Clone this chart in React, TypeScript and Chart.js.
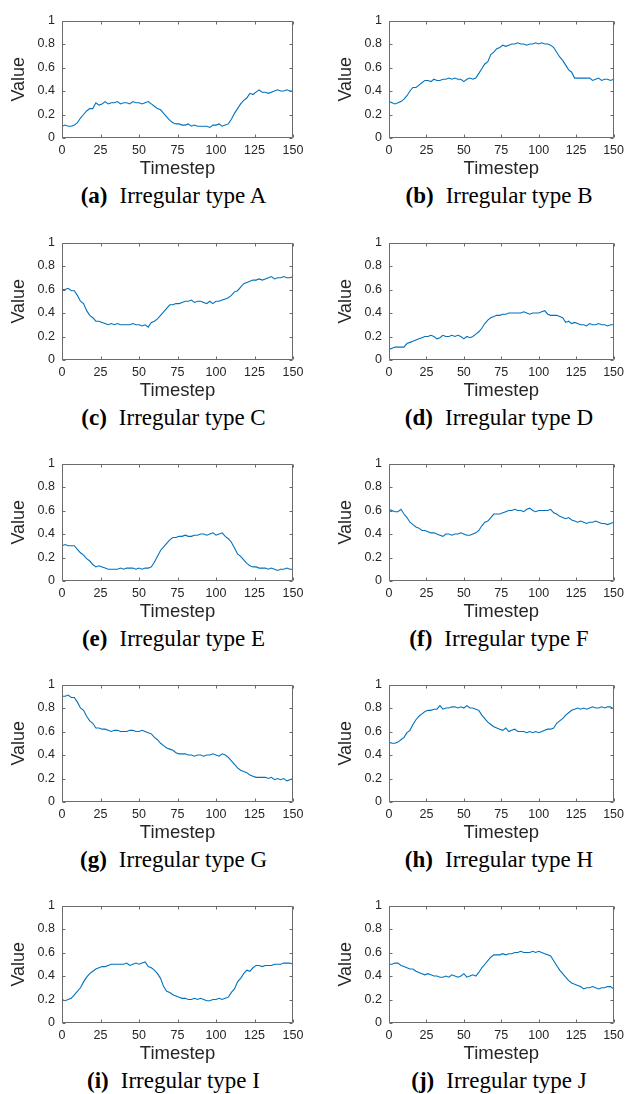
import React, { useEffect, useRef } from 'react';
import { Chart, registerables } from 'chart.js';

Chart.register(...registerables);

const timesteps = [
  0, 2, 4, 6, 8, 10, 12, 14, 16, 18,
  20, 22, 24, 26, 28, 30, 32, 34, 36, 38,
  40, 42, 44, 46, 48, 50, 52, 54, 56, 58,
  60, 62, 64, 66, 68, 70, 72, 74, 76, 78,
  80, 82, 84, 86, 88, 90, 92, 94, 96, 98,
  100, 102, 104, 106, 108, 110, 112, 114, 116, 118,
  120, 122, 124, 126, 128, 130, 132, 134, 136, 138,
  140, 142, 144, 146, 148, 150,
];

const xTicks = [0, 25, 50, 75, 100, 125, 150];
const yTicks = [0, 0.2, 0.4, 0.6, 0.8, 1];

const seriesA = [
  0.10, 0.11, 0.10, 0.10, 0.11, 0.13, 0.17, 0.20, 0.23, 0.25,
  0.25, 0.30, 0.28, 0.29, 0.31, 0.29, 0.30, 0.30, 0.31, 0.29,
  0.30, 0.30, 0.29, 0.31, 0.30, 0.30, 0.29, 0.30, 0.31, 0.29,
  0.27, 0.25, 0.24, 0.21, 0.18, 0.15, 0.13, 0.12, 0.12, 0.11,
  0.11, 0.12, 0.10, 0.11, 0.10, 0.10, 0.10, 0.10, 0.09, 0.11,
  0.11, 0.12, 0.10, 0.11, 0.12, 0.16, 0.21, 0.25, 0.29, 0.32,
  0.34, 0.38, 0.37, 0.39, 0.41, 0.39, 0.39, 0.38, 0.39, 0.40,
  0.41, 0.40, 0.40, 0.41, 0.40, 0.40,
];
const seriesB = [
  0.31, 0.30, 0.29, 0.30, 0.31, 0.33, 0.36, 0.40, 0.43, 0.43,
  0.45, 0.47, 0.49, 0.49, 0.48, 0.50, 0.49, 0.49, 0.50, 0.50,
  0.51, 0.50, 0.51, 0.50, 0.50, 0.48, 0.50, 0.51, 0.50, 0.51,
  0.55, 0.59, 0.63, 0.65, 0.71, 0.73, 0.76, 0.77, 0.79, 0.78,
  0.79, 0.80, 0.80, 0.81, 0.80, 0.80, 0.79, 0.80, 0.80, 0.81,
  0.80, 0.81, 0.80, 0.80, 0.79, 0.77, 0.73, 0.69, 0.66, 0.62,
  0.58, 0.56, 0.51, 0.51, 0.51, 0.51, 0.51, 0.51, 0.49, 0.50,
  0.51, 0.49, 0.50, 0.50, 0.49, 0.50,
];
const seriesC = [
  0.60, 0.60, 0.61, 0.59, 0.59, 0.55, 0.50, 0.48, 0.42, 0.38,
  0.36, 0.33, 0.33, 0.32, 0.31, 0.30, 0.31, 0.30, 0.31, 0.30,
  0.30, 0.30, 0.30, 0.31, 0.30, 0.30, 0.29, 0.30, 0.28, 0.32,
  0.33, 0.35, 0.38, 0.41, 0.44, 0.47, 0.47, 0.48, 0.48, 0.49,
  0.50, 0.50, 0.51, 0.49, 0.50, 0.50, 0.49, 0.48, 0.50, 0.48,
  0.50, 0.50, 0.51, 0.52, 0.53, 0.55, 0.58, 0.59, 0.62, 0.65,
  0.66, 0.67, 0.68, 0.68, 0.69, 0.68, 0.69, 0.70, 0.71, 0.69,
  0.70, 0.70, 0.71, 0.70, 0.70, 0.71,
];
const seriesD = [
  0.09, 0.10, 0.11, 0.11, 0.11, 0.11, 0.14, 0.15, 0.16, 0.17,
  0.18, 0.19, 0.20, 0.20, 0.21, 0.20, 0.18, 0.19, 0.21, 0.20,
  0.20, 0.21, 0.20, 0.21, 0.20, 0.18, 0.20, 0.19, 0.20, 0.22,
  0.24, 0.27, 0.31, 0.34, 0.36, 0.37, 0.38, 0.38, 0.39, 0.39,
  0.40, 0.40, 0.40, 0.40, 0.40, 0.41, 0.40, 0.39, 0.40, 0.40,
  0.40, 0.41, 0.42, 0.39, 0.38, 0.38, 0.38, 0.37, 0.36, 0.32,
  0.33, 0.31, 0.32, 0.31, 0.30, 0.30, 0.29, 0.31, 0.30, 0.30,
  0.31, 0.30, 0.30, 0.29, 0.30, 0.30,
];
const seriesE = [
  0.30, 0.31, 0.30, 0.30, 0.30, 0.27, 0.24, 0.22, 0.19, 0.17,
  0.14, 0.12, 0.13, 0.12, 0.11, 0.10, 0.10, 0.10, 0.10, 0.11,
  0.10, 0.11, 0.11, 0.11, 0.10, 0.11, 0.10, 0.11, 0.11, 0.12,
  0.16, 0.21, 0.26, 0.29, 0.32, 0.35, 0.37, 0.37, 0.38, 0.38,
  0.39, 0.38, 0.38, 0.39, 0.39, 0.40, 0.40, 0.39, 0.40, 0.41,
  0.39, 0.40, 0.41, 0.38, 0.36, 0.33, 0.28, 0.23, 0.21, 0.18,
  0.15, 0.13, 0.12, 0.12, 0.11, 0.11, 0.11, 0.10, 0.11, 0.10,
  0.09, 0.10, 0.10, 0.11, 0.10, 0.10,
];
const seriesF = [
  0.61, 0.60, 0.59, 0.59, 0.61, 0.57, 0.54, 0.50, 0.48, 0.46,
  0.45, 0.43, 0.43, 0.42, 0.41, 0.41, 0.40, 0.39, 0.38, 0.40,
  0.40, 0.39, 0.40, 0.40, 0.41, 0.40, 0.39, 0.39, 0.40, 0.41,
  0.43, 0.47, 0.50, 0.51, 0.54, 0.57, 0.57, 0.57, 0.58, 0.59,
  0.60, 0.60, 0.61, 0.60, 0.60, 0.59, 0.61, 0.62, 0.60, 0.59,
  0.60, 0.60, 0.60, 0.60, 0.61, 0.58, 0.57, 0.55, 0.54, 0.53,
  0.54, 0.52, 0.51, 0.50, 0.51, 0.50, 0.49, 0.50, 0.50, 0.51,
  0.50, 0.49, 0.49, 0.48, 0.49, 0.50,
];
const seriesG = [
  0.90, 0.90, 0.91, 0.89, 0.89, 0.85, 0.80, 0.78, 0.73, 0.69,
  0.67, 0.63, 0.63, 0.62, 0.62, 0.61, 0.60, 0.61, 0.61, 0.60,
  0.60, 0.60, 0.61, 0.61, 0.60, 0.60, 0.61, 0.60, 0.59, 0.58,
  0.55, 0.53, 0.50, 0.48, 0.46, 0.45, 0.44, 0.42, 0.41, 0.41,
  0.41, 0.40, 0.40, 0.39, 0.40, 0.40, 0.39, 0.40, 0.40, 0.41,
  0.40, 0.39, 0.41, 0.40, 0.38, 0.35, 0.32, 0.29, 0.27, 0.26,
  0.25, 0.23, 0.22, 0.21, 0.21, 0.21, 0.21, 0.20, 0.21, 0.19,
  0.20, 0.19, 0.20, 0.18, 0.19, 0.20,
];
const seriesH = [
  0.51, 0.50, 0.50, 0.51, 0.53, 0.55, 0.59, 0.61, 0.66, 0.70,
  0.73, 0.75, 0.77, 0.78, 0.78, 0.79, 0.79, 0.82, 0.79, 0.80,
  0.80, 0.81, 0.81, 0.80, 0.81, 0.80, 0.82, 0.80, 0.80, 0.79,
  0.78, 0.74, 0.71, 0.68, 0.66, 0.64, 0.63, 0.62, 0.61, 0.63,
  0.60, 0.61, 0.62, 0.60, 0.60, 0.60, 0.59, 0.60, 0.59, 0.60,
  0.59, 0.60, 0.61, 0.62, 0.62, 0.63, 0.67, 0.69, 0.71, 0.74,
  0.76, 0.78, 0.79, 0.80, 0.79, 0.80, 0.79, 0.80, 0.81, 0.80,
  0.80, 0.81, 0.80, 0.81, 0.81, 0.79,
];
const seriesI = [
  0.20, 0.19, 0.20, 0.21, 0.24, 0.27, 0.30, 0.35, 0.39, 0.42,
  0.44, 0.46, 0.47, 0.48, 0.48, 0.49, 0.50, 0.50, 0.50, 0.50,
  0.50, 0.51, 0.49, 0.50, 0.51, 0.50, 0.51, 0.52, 0.48, 0.47,
  0.45, 0.42, 0.38, 0.31, 0.27, 0.26, 0.24, 0.23, 0.22, 0.21,
  0.21, 0.20, 0.20, 0.21, 0.20, 0.21, 0.20, 0.19, 0.19, 0.20,
  0.20, 0.21, 0.20, 0.21, 0.22, 0.26, 0.29, 0.35, 0.38, 0.42,
  0.45, 0.44, 0.47, 0.49, 0.49, 0.48, 0.49, 0.49, 0.49, 0.50,
  0.50, 0.50, 0.51, 0.51, 0.51, 0.50,
];
const seriesJ = [
  0.50, 0.50, 0.51, 0.51, 0.49, 0.48, 0.47, 0.46, 0.46, 0.44,
  0.43, 0.42, 0.41, 0.42, 0.41, 0.40, 0.40, 0.39, 0.39, 0.40,
  0.39, 0.41, 0.40, 0.39, 0.40, 0.42, 0.39, 0.40, 0.41, 0.40,
  0.43, 0.47, 0.50, 0.53, 0.56, 0.58, 0.58, 0.58, 0.59, 0.58,
  0.59, 0.59, 0.60, 0.60, 0.61, 0.60, 0.60, 0.60, 0.61, 0.60,
  0.61, 0.60, 0.59, 0.58, 0.57, 0.53, 0.49, 0.45, 0.42, 0.39,
  0.36, 0.34, 0.33, 0.32, 0.31, 0.29, 0.30, 0.30, 0.31, 0.30,
  0.29, 0.30, 0.30, 0.31, 0.31, 0.29,
];

const captionLetters = ['a', 'b', 'c', 'd', 'e', 'f', 'g', 'h', 'i', 'j'];
const captionNames = [
  'Irregular type A', 'Irregular type B', 'Irregular type C', 'Irregular type D',
  'Irregular type E', 'Irregular type F', 'Irregular type G', 'Irregular type H',
  'Irregular type I', 'Irregular type J',
];
const allSeries = [seriesA, seriesB, seriesC, seriesD, seriesE, seriesF, seriesG, seriesH, seriesI, seriesJ];

const LINE_COLOR = '#0072BD';
const TEXT_COLOR = '#262626';
const AXIS_COLOR = '#6b6b6b';
const SANS = '"Liberation Sans", Arial, Helvetica, sans-serif';
const SERIF = '"Liberation Serif", "Times New Roman", Times, serif';

// layout
const PLOT_TOPS = [16, 238, 459, 680, 901];
const PLOT_H = 122;
const COL_LEFT = [0, 327];
const COL_WIDTH = [310, 302];
const COL_RIGHT_PAD = [17, 11];
const Y_AXIS_W = 62;
const X_AXIS_H = 42;
const TOP_PAD = 10;
const CAPTION_CENTER = [173.5, 499];
const CAPTION_SIZE = 23;

const boxPlugin = {
  id: 'matlabBox',
  afterDraw(chart: any) {
    const { ctx, chartArea, scales } = chart;
    const l = Math.round(chartArea.left) + 0.5;
    const r = Math.round(chartArea.right) - 0.5;
    const t = Math.round(chartArea.top) + 0.5;
    const b = Math.round(chartArea.bottom) - 0.5;
    ctx.save();
    ctx.strokeStyle = AXIS_COLOR;
    ctx.lineWidth = 1;
    ctx.beginPath();
    ctx.rect(l, t, r - l, b - t);
    const tl = 3;
    for (const v of yTicks) {
      const py = Math.round(scales.y.getPixelForValue(v)) + 0.5;
      ctx.moveTo(l, py); ctx.lineTo(l + tl, py);
      ctx.moveTo(r, py); ctx.lineTo(r - tl, py);
    }
    for (const v of xTicks) {
      const px = Math.round(scales.x.getPixelForValue(v)) + 0.5;
      ctx.moveTo(px, b); ctx.lineTo(px, b - tl);
      ctx.moveTo(px, t); ctx.lineTo(px, t + tl);
    }
    ctx.stroke();
    ctx.restore();
  },
};

function Panel({ index }: { index: number }) {
  const ref = useRef<HTMLCanvasElement>(null);
  const col = index % 2;
  const row = Math.floor(index / 2);
  const values = allSeries[index];
  const width = COL_WIDTH[col];
  const height = TOP_PAD + PLOT_H + X_AXIS_H;

  useEffect(() => {
    const canvas = ref.current;
    if (!canvas) return;
    const chart = new Chart(canvas, {
      type: 'line',
      data: {
        datasets: [
          {
            data: timesteps.map((t, i) => ({ x: t, y: values[i] })),
            borderColor: LINE_COLOR,
            borderWidth: 1.1,
            pointRadius: 0,
            fill: false,
            tension: 0,
          },
        ],
      },
      options: {
        animation: false,
        responsive: false,
        events: [],
        layout: { padding: { top: TOP_PAD, right: COL_RIGHT_PAD[col], left: 0, bottom: 0 } },
        plugins: { legend: { display: false }, tooltip: { enabled: false } },
        scales: {
          x: {
            type: 'linear',
            min: 0,
            max: 150,
            grid: { display: false, drawTicks: false },
            border: { display: false },
            afterBuildTicks: (s: any) => {
              s.ticks = xTicks.map((v) => ({ value: v }));
            },
            afterFit: (s: any) => {
              s.height = X_AXIS_H;
            },
            ticks: {
              autoSkip: false,
              maxRotation: 0,
              padding: 5,
              color: TEXT_COLOR,
              font: { family: SANS, size: 12.5 },
              callback: (v: any) => String(v),
            },
            title: {
              display: true,
              text: 'Timestep',
              color: TEXT_COLOR,
              font: { family: SANS, size: 18.5 },
              padding: { top: 0, bottom: 0 },
            },
          },
          y: {
            type: 'linear',
            min: 0,
            max: 1,
            grid: { display: false, drawTicks: false },
            border: { display: false },
            afterBuildTicks: (s: any) => {
              s.ticks = yTicks.map((v) => ({ value: v }));
            },
            afterFit: (s: any) => {
              s.width = Y_AXIS_W;
            },
            ticks: {
              padding: 7,
              color: TEXT_COLOR,
              font: { family: SANS, size: 12.5 },
              callback: (v: any) => String(v),
            },
            title: {
              display: true,
              text: 'Value',
              color: TEXT_COLOR,
              font: { family: SANS, size: 18 },
              padding: { top: 8, bottom: 0 },
            },
          },
        },
      } as any,
      plugins: [boxPlugin],
    });
    return () => chart.destroy();
  }, []);

  const plotTop = PLOT_TOPS[row];
  const baseline = plotTop + 187;

  return (
    <>
      <canvas
        ref={ref}
        width={width}
        height={height}
        style={{ position: 'absolute', left: COL_LEFT[col], top: plotTop - TOP_PAD, width, height }}
      />
      <div
        style={{
          position: 'absolute',
          left: CAPTION_CENTER[col] - 150,
          width: 300,
          top: baseline - 0.837 * CAPTION_SIZE,
          textAlign: 'center',
          fontFamily: SERIF,
          fontSize: CAPTION_SIZE,
          lineHeight: `${CAPTION_SIZE}px`,
          color: '#000',
          whiteSpace: 'nowrap',
        }}
      >
        <span style={{ fontWeight: 'bold', marginRight: 12 }}>({captionLetters[index]})</span>
        <span>{captionNames[index]}</span>
      </div>
    </>
  );
}

export default function App() {
  return (
    <div
      style={{
        position: 'absolute',
        left: 0,
        top: 0,
        width: 629,
        height: 1094,
        background: '#fff',
        overflow: 'hidden',
      }}
    >
      {allSeries.map((_, i) => (
        <Panel key={i} index={i} />
      ))}
    </div>
  );
}
